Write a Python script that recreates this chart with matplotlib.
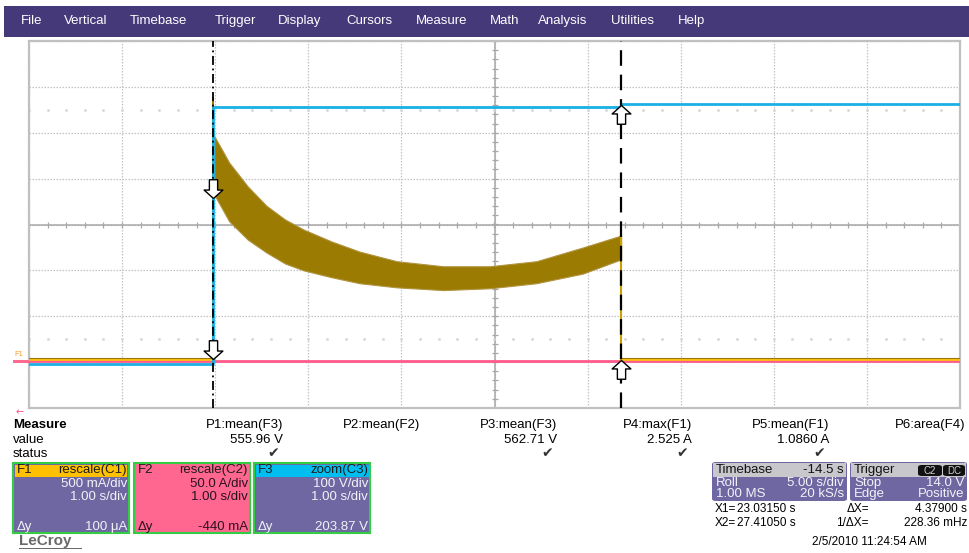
import matplotlib
matplotlib.use("Agg")
import matplotlib.pyplot as plt
import numpy as np
from matplotlib.patches import Rectangle, FancyBboxPatch
from matplotlib.path import Path

W, H = 969, 553
FONT = "Liberation Sans"

menu_items = ["File", "Vertical", "Timebase", "Trigger", "Display", "Cursors",
              "Measure", "Math", "Analysis", "Utilities", "Help"]
menu_x = [21, 64, 130, 215, 278, 346, 416, 490, 538, 611, 678]

# time in seconds, amplitude in divisions
t_start, t_end = 21.05, 31.05
x1_cursor, x2_cursor = 23.0315, 27.4105

# F1 (C1 current) - envelope of the fast ripple band
band_t = [23.04, 23.2, 23.4, 23.6, 23.8, 24.0, 24.3, 24.6, 25.0, 25.5, 26.0, 26.5, 27.0, 27.41]
band_top = [1.93, 1.35, 0.83, 0.41, 0.11, -0.11, -0.37, -0.59, -0.80, -0.91, -0.91, -0.80, -0.50, -0.24]
band_bot = [0.65, 0.07, -0.33, -0.61, -0.85, -1.00, -1.15, -1.28, -1.37, -1.43, -1.39, -1.28, -1.07, -0.76]
f1_base = -2.93
f1_spike = 2.75

# F2 (C2)
f2_base = -2.98

# F3 (C3 voltage)
f3_t = [21.05, 23.0315, 23.0315, 27.4105, 27.4105, 31.05]
f3_v = [-3.04, -3.04, 2.57, 2.57, 2.63, 2.63]

# cursor markers (div)
arrow_down_y = [0.57, -2.93]
arrow_up_y = [2.60, -2.96]

meas_labels = ["P1:mean(F3)", "P2:mean(F2)", "P3:mean(F3)", "P4:max(F1)", "P5:mean(F1)", "P6:area(F4)"]
meas_values = ["555.96 V", "", "562.71 V", "2.525 A", "1.0860 A", ""]
meas_status = [True, False, True, True, True, False]
meas_right = [283, 420, 557, 692, 829, 965]

ch_names = ["F1", "F2", "F3"]
ch_ops = ["rescale(C1)", "rescale(C2)", "zoom(C3)"]
ch_vdiv = ["500 mA/div", "50.0 A/div", "100 V/div"]
ch_hdiv = ["1.00 s/div", "1.00 s/div", "1.00 s/div"]
ch_dy = ["100 μA", "-440 mA", "203.87 V"]
ch_left = [13, 134, 254]
ch_head = ["#ffc000", "#ff6690", "#00bff0"]
ch_body = ["#6f67a2", "#ff6690", "#6f67a2"]
ch_text = ["#f2f2f8", "#2a1020", "#f2f2f8"]

PURPLE = "#6f67a2"


def fy(y):
    return 1 - y / H


def ftext(x, y, s, size=9.5, ha="left", color="black", **kw):
    kw.setdefault("family", FONT)
    fig.text(x / W, fy(y), s, fontsize=size, ha=ha, va="center", color=color, **kw)


def frect(x0, y0, x1, y1, color, ec="none", lw=0, rounded=False):
    if rounded:
        p = FancyBboxPatch((x0 / W, fy(y1)), (x1 - x0) / W, (y1 - y0) / H,
                           boxstyle="round,pad=0,rounding_size=0.004",
                           transform=fig.transFigure, fc=color, ec=ec, lw=lw)
    else:
        p = Rectangle((x0 / W, fy(y1)), (x1 - x0) / W, (y1 - y0) / H,
                      transform=fig.transFigure, fc=color, ec=ec, lw=lw)
    fig.add_artist(p)


fig = plt.figure(figsize=(W / 100, H / 100), dpi=100)
fig.patch.set_facecolor("white")

# menu bar
frect(4, 6, 969, 37, "#46397a")
for name, x in zip(menu_items, menu_x):
    ftext(x, 21, name, size=9.5, color="white")

# graticule
ax = fig.add_axes([29 / W, fy(408), 931 / W, 367 / H])
ax.set_xlim(t_start, t_end)
ax.set_ylim(-4, 4)
ax.set_xticks(np.arange(t_start, t_end + 0.01, 1.0))
ax.set_yticks(np.arange(-4, 4.01, 1.0))
ax.tick_params(length=0, labelbottom=False, labelleft=False)
ax.grid(True, color="#c4c4c4", ls=(0, (1.2, 1.2)), lw=0.9)
for s in ax.spines.values():
    s.set_color("#c0c0c0")
    s.set_linewidth(1.6)
t_mid = (t_start + t_end) / 2
ax.axhline(0, color="#a8a8a8", lw=1.1)
ax.axvline(t_mid, color="#a8a8a8", lw=1.1)
minor_t = np.arange(t_start, t_end + 0.01, 0.2)
minor_v = np.arange(-4, 4.01, 0.2)
ax.plot(minor_t, np.zeros_like(minor_t), ls="none", marker="|", ms=5, mew=0.9, color="#a8a8a8")
ax.plot(np.full_like(minor_v, t_mid), minor_v, ls="none", marker="_", ms=5, mew=0.9, color="#a8a8a8")
for yrow in (2.5, -2.5):
    ax.plot(minor_t, np.full_like(minor_t, yrow), ls="none", marker="s", ms=0.9, color="#d6d6d6")

# traces
ax.plot([t_start, t_end], [f2_base, f2_base], color="#ff5a8a", lw=2, zorder=3)
ax.plot([t_start, x1_cursor], [f1_base, f1_base], color="#ffbf10", lw=2, zorder=4)
ax.plot([x2_cursor, t_end], [f1_base, f1_base], color="#ffbf10", lw=2, zorder=4)
ax.plot([t_start, x1_cursor], [f1_base + 0.03, f1_base + 0.03], color="#9a7a08", lw=0.8, zorder=4)
ax.plot([x2_cursor, t_end], [f1_base + 0.03, f1_base + 0.03], color="#9a7a08", lw=0.8, zorder=4)
ax.plot(f3_t, f3_v, color="#19b0e6", lw=2, zorder=5)
ax.fill_between(band_t, band_bot, band_top, color="#9b7b02", ec="#b09440", lw=0.8, zorder=4)
ax.plot([x1_cursor, x1_cursor], [f1_base, f1_spike], color="#9b7b02", lw=1.5, zorder=4)
ax.plot([x2_cursor, x2_cursor], [f1_base, band_top[-1]], color="#c9a000", lw=1.5, zorder=4)

# cursors
ax.axvline(x1_cursor, color="black", lw=1.3, ls=(0, (5, 2, 1, 2)), zorder=6)
ax.axvline(x2_cursor, color="black", lw=1.6, ls=(0, (7, 4)), zorder=6)
down = Path([(0, 0), (-0.5, 0.45), (-0.22, 0.45), (-0.22, 1.0), (0.22, 1.0),
             (0.22, 0.45), (0.5, 0.45), (0, 0)],
            [Path.MOVETO] + [Path.LINETO] * 6 + [Path.CLOSEPOLY])
up = Path(down.vertices * [1, -1], down.codes)
ax.plot([x1_cursor] * 2, arrow_down_y, ls="none", marker=down, ms=27, mfc="white",
        mec="black", mew=1.0, zorder=7)
ax.plot([x2_cursor] * 2, arrow_up_y, ls="none", marker=up, ms=27, mfc="white",
        mec="black", mew=1.0, zorder=7)

# trace label at left
ftext(14, 354, "F1", size=5.5, color="#f0a030")
frect(13, 360, 29, 362.5, "#ff6a90")
ftext(16, 412, "←", size=7, color="#ff5080", family="DejaVu Sans")

# measure table
ftext(13, 425, "Measure", weight="bold")
ftext(13, 440, "value")
ftext(13, 454, "status")
for lab, val, st, xr in zip(meas_labels, meas_values, meas_status, meas_right):
    ftext(xr, 425, lab, ha="right")
    if val:
        ftext(xr, 440, val, ha="right")
    if st:
        ftext(xr - 4, 453, "✔", size=10, ha="right", color="#333333", family="DejaVu Sans")

# channel descriptor boxes
for name, op, vd, hd, dy, x0, hc, bc, tc in zip(ch_names, ch_ops, ch_vdiv, ch_hdiv, ch_dy,
                                                ch_left, ch_head, ch_body, ch_text):
    x1 = x0 + 116
    frect(x0, 463, x1, 533, bc, ec="#33cc44", lw=1.5)
    frect(x0 + 1.5, 464.5, x1 - 1.5, 477, hc)
    hcol = "#1a1a1a"
    ftext(x0 + 4, 470, name, color=hcol)
    ftext(x1 - 2, 470, op, ha="right", color=hcol)
    ftext(x1 - 2, 484, vd, ha="right", color=tc)
    ftext(x1 - 2, 497, hd, ha="right", color=tc)
    ftext(x0 + 4, 527, "Δy", color=tc)
    ftext(x1 - 2, 527, dy, ha="right", color=tc)

# timebase / trigger boxes
frect(712, 462, 847, 501, PURPLE, rounded=True)
frect(713, 463, 846, 477, "#c8c8cc")
ftext(716, 470, "Timebase", color="#111111")
ftext(844, 470, "-14.5 s", ha="right", color="#111111")
ftext(716, 483, "Roll", color="#f2f2f8")
ftext(844, 483, "5.00 s/div", ha="right", color="#f2f2f8")
ftext(716, 494, "1.00 MS", color="#f2f2f8")
ftext(844, 494, "20 kS/s", ha="right", color="#f2f2f8")

frect(850, 462, 967, 501, PURPLE, rounded=True)
frect(851, 463, 966, 477, "#c8c8cc")
ftext(854, 470, "Trigger", color="#111111")
frect(918, 465, 942, 476, "#111111", rounded=True)
frect(943, 465, 965, 476, "#111111", rounded=True)
ftext(930, 470.5, "C2", size=7, ha="center", color="#d0d0d0")
ftext(954, 470.5, "DC", size=7, ha="center", color="#d0d0d0")
ftext(854, 483, "Stop", color="#f2f2f8")
ftext(964, 483, "14.0 V", ha="right", color="#f2f2f8")
ftext(854, 494, "Edge", color="#f2f2f8")
ftext(964, 494, "Positive", ha="right", color="#f2f2f8")

ftext(715, 509, "X1=", size=8.5)
ftext(737, 509, "23.03150 s", size=8.5)
ftext(847, 509, "ΔX=", size=8.5)
ftext(967, 509, "4.37900 s", size=8.5, ha="right")
ftext(715, 523, "X2=", size=8.5)
ftext(737, 523, "27.41050 s", size=8.5)
ftext(836, 523, "1/ΔX=", size=8.5)
ftext(967, 523, "228.36 mHz", size=8.5, ha="right")
ftext(812, 542, "2/5/2010 11:24:54 AM", size=8.5)

# logo
ftext(19, 541, "LeCroy", size=11, color="#6a6a6a", weight="bold")
frect(19, 548, 82, 549.3, "#6a6a6a")

fig.savefig("out.png", dpi=100)
plt.close(fig)
